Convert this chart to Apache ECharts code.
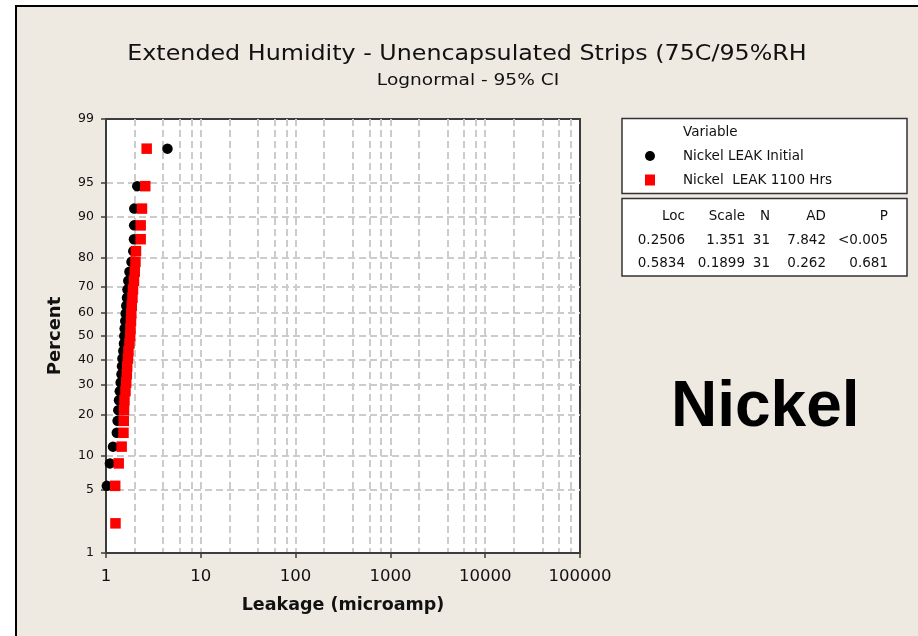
<!DOCTYPE html>
<html>
<head>
<meta charset="utf-8">
<script src="https://cdn.jsdelivr.net/npm/echarts@6/dist/echarts.min.js"></script>
<style>
  html, body { margin: 0; padding: 0; background: #ffffff; }
  #chart { width: 918px; height: 636px; }
</style>
</head>
<body>
<div id="chart"></div>
<script>
// Median-rank plotting positions (percent) shared by both samples, N = 31
const percentRanks = [2.23, 5.41, 8.60, 11.78, 14.97, 18.15, 21.34, 24.52, 27.71, 30.89,
  34.08, 37.26, 40.45, 43.63, 46.82, 50.00, 53.18, 56.37, 59.55, 62.74,
  65.92, 69.11, 72.29, 75.48, 78.66, 81.85, 85.03, 88.22, 91.40, 94.59, 97.77];

// Sorted leakage readings (microamp)
const leakInitial = [0.004, 1.02, 1.10, 1.185, 1.30, 1.325, 1.348, 1.371, 1.398, 1.428,
  1.457, 1.475, 1.492, 1.522, 1.548, 1.559, 1.574, 1.597, 1.613, 1.637,
  1.665, 1.685, 1.718, 1.768, 1.857, 1.940, 1.972, 1.982, 1.987, 2.137, 4.45];
const leak1100 = [1.259, 1.250, 1.361, 1.463, 1.529, 1.540, 1.548, 1.566, 1.605, 1.633,
  1.657, 1.673, 1.705, 1.726, 1.768, 1.799, 1.812, 1.834, 1.848, 1.870,
  1.902, 1.925, 1.972, 2.011, 2.046, 2.071, 2.321, 2.321, 2.395, 2.595, 2.685];

const seriesNames = ['Nickel LEAK Initial', 'Nickel  LEAK 1100 Hrs'];

// Axis ticks and grid positions
const percentTicks = [1, 5, 10, 20, 30, 40, 50, 60, 70, 80, 90, 95, 99];
const percentGrid = [5, 10, 20, 30, 40, 50, 60, 70, 80, 90, 95];
const leakGrid = [2, 4, 6, 8, 10, 20, 40, 60, 80, 100, 200, 400, 600, 800, 1000,
  2000, 4000, 6000, 8000, 10000, 20000, 40000, 60000, 80000];

// Goodness-of-fit table
const statHeader = ['Loc', 'Scale', 'N', 'AD', 'P'];
const statLoc = ['0.2506', '0.5834'];
const statScale = ['1.351', '0.1899'];
const statN = ['31', '31'];
const statAD = ['7.842', '0.262'];
const statP = ['<0.005', '0.681'];

// Inverse standard normal CDF (Acklam) for the probability scale
function probit(p) {
  const a = [-3.969683028665376e+01, 2.209460984245205e+02, -2.759285104469687e+02,
    1.383577518672690e+02, -3.066479806614716e+01, 2.506628277459239e+00];
  const b = [-5.447609879822406e+01, 1.615858368580409e+02, -1.556989798598866e+02,
    6.680131188771972e+01, -1.328068155288572e+01];
  const c = [-7.784894002430293e-03, -3.223964580411365e-01, -2.400758277161838e+00,
    -2.549732539343734e+00, 4.374664141464968e+00, 2.938163982698783e+00];
  const d = [7.784695709041462e-03, 3.224671290700398e-01, 2.445134137142996e+00,
    3.754408661907416e+00];
  const pl = 0.02425, ph = 1 - pl;
  let q, r;
  if (p < pl) {
    q = Math.sqrt(-2 * Math.log(p));
    return (((((c[0]*q+c[1])*q+c[2])*q+c[3])*q+c[4])*q+c[5]) /
      ((((d[0]*q+d[1])*q+d[2])*q+d[3])*q+1);
  }
  if (p <= ph) {
    q = p - 0.5; r = q * q;
    return (((((a[0]*r+a[1])*r+a[2])*r+a[3])*r+a[4])*r+a[5])*q /
      (((((b[0]*r+b[1])*r+b[2])*r+b[3])*r+b[4])*r+1);
  }
  q = Math.sqrt(-2 * Math.log(1 - p));
  return -(((((c[0]*q+c[1])*q+c[2])*q+c[3])*q+c[4])*q+c[5]) /
    ((((d[0]*q+d[1])*q+d[2])*q+d[3])*q+1);
}
const zOf = pct => probit(pct / 100);
const zMin = zOf(percentTicks[0]);
const zMax = zOf(percentTicks[percentTicks.length - 1]);

function labelFor(z) {
  let best = percentTicks[0], bd = Infinity;
  percentTicks.forEach(t => { const dd = Math.abs(zOf(t) - z); if (dd < bd) { bd = dd; best = t; } });
  return String(best);
}

const FONT = 'DejaVu Sans';
const SMALL = '13.5px "' + FONT + '"';
const gridLineStyle = { color: '#cccccc', width: 2, type: [7, 4] };
const frameColor = '#3c3c3c';

const chart = echarts.init(document.getElementById('chart'), null, { renderer: 'canvas' });

const GL = 106, GT = 119, GW = 474, GH = 434;

// Stats table rows as text graphics, right-aligned per column
const colRight = [685, 745, 770, 826, 888];
const rowY = [216.5, 240.5, 263];
const statCols = [statLoc, statScale, statN, statAD, statP];
const tableText = [];
statHeader.forEach((h, ci) => {
  tableText.push({ type: 'text', x: colRight[ci], y: rowY[0],
    style: { text: h, font: SMALL, fill: '#111', align: 'right', verticalAlign: 'middle' } });
  statCols[ci].forEach((v, ri) => {
    tableText.push({ type: 'text', x: colRight[ci], y: rowY[ri + 1],
      style: { text: v, font: SMALL, fill: '#111', align: 'right', verticalAlign: 'middle' } });
  });
});

chart.setOption({
  animation: false,
  backgroundColor: '#ffffff',
  graphic: [
    { type: 'rect', z: -10, silent: true, shape: { x: 16, y: 6, width: 910, height: 640 },
      style: { fill: '#eeeae1', stroke: '#000', lineWidth: 2 } },
    // chart title and subtitle, slightly widened lettering
    { type: 'text', z: 2, x: 467, y: 54.5, scaleX: 1.16,
      style: { text: 'Extended Humidity - Unencapsulated Strips (75C/95%RH', font: '20.5px "' + FONT + '"',
        fill: '#111', align: 'center', verticalAlign: 'middle' } },
    { type: 'text', z: 2, x: 468, y: 81, scaleX: 1.16,
      style: { text: 'Lognormal - 95% CI', font: '16px "' + FONT + '"',
        fill: '#111', align: 'center', verticalAlign: 'middle' } },
    { type: 'rect', z: 1, shape: { x: 622, y: 118.5, width: 285, height: 75 },
      style: { fill: '#ffffff', stroke: '#333', lineWidth: 1.5 } },
    { type: 'rect', z: 1, shape: { x: 622, y: 198.5, width: 285, height: 77.5 },
      style: { fill: '#ffffff', stroke: '#333', lineWidth: 1.5 } },
    { type: 'text', z: 2, x: 683, y: 132.5, style: { text: 'Variable', font: SMALL, fill: '#111', verticalAlign: 'middle' } },
    { type: 'text', z: 2, x: 671, y: 408, style: { text: 'Nickel', font: 'bold 64px "Liberation Sans"', fill: '#000', verticalAlign: 'middle' } }
  ].concat(tableText.map(t => Object.assign({ z: 2 }, t))),
  legend: {
    orient: 'vertical', left: 640, top: 144, itemGap: 10, itemWidth: 10, itemHeight: 11,
    data: seriesNames, z: 5,
    textStyle: { fontFamily: FONT, fontSize: 13.5, color: '#111', padding: [0, 0, 0, 23] }
  },
  grid: { left: GL, top: GT, width: GW, height: GH, show: true, backgroundColor: '#ffffff',
    borderColor: frameColor, borderWidth: 2 },
  xAxis: [
    { type: 'log', logBase: 10, min: 1, max: 100000,
      name: 'Leakage (microamp)', nameLocation: 'middle', nameGap: 43,
      nameTextStyle: { fontFamily: FONT, fontSize: 17.5, fontWeight: 'bold', color: '#111' },
      axisLine: { show: true, onZero: false, lineStyle: { color: frameColor, width: 2 } },
      axisTick: { show: true, length: 5, lineStyle: { color: frameColor, width: 1.5 } },
      axisLabel: { margin: 15, fontFamily: FONT, fontSize: 16.5, color: '#111', formatter: v => String(v) },
      splitLine: { show: false }, minorTick: { show: false } },
    { type: 'log', logBase: 10, min: 1, max: 100000, position: 'top',
      axisLine: { show: false, onZero: false }, axisLabel: { show: false },
      axisTick: { show: false, customValues: leakGrid },
      splitLine: { show: true, lineStyle: gridLineStyle } }
  ],
  yAxis: [
    { type: 'value', min: zMin, max: zMax,
      name: 'Percent', nameLocation: 'middle', nameGap: 42, nameRotate: 90,
      nameTextStyle: { fontFamily: FONT, fontSize: 18, fontWeight: 'bold', color: '#111' },
      axisLine: { show: true, onZero: false, lineStyle: { color: frameColor, width: 2 } },
      axisTick: { show: true, length: 5, customValues: percentTicks.map(zOf), lineStyle: { color: frameColor, width: 1.5 } },
      axisLabel: { margin: 12, fontFamily: FONT, fontSize: 12.5, color: '#111',
        customValues: percentTicks.map(zOf), formatter: v => labelFor(v) },
      splitLine: { show: false } },
    { type: 'value', min: zMin, max: zMax, position: 'right',
      axisLine: { show: false, onZero: false }, axisLabel: { show: false },
      axisTick: { show: false, customValues: percentGrid.map(zOf) },
      splitLine: { show: true, lineStyle: gridLineStyle } }
  ],
  series: [
    { name: seriesNames[0], type: 'scatter', xAxisIndex: 0, yAxisIndex: 0, clip: true,
      symbol: 'circle', symbolSize: 10.5, itemStyle: { color: '#000000', opacity: 1 },
      data: leakInitial.map((v, i) => [v, zOf(percentRanks[i])]) },
    { name: seriesNames[1], type: 'scatter', xAxisIndex: 0, yAxisIndex: 0, clip: true,
      symbol: 'rect', symbolSize: 10.5, itemStyle: { color: '#ff0000', opacity: 1 },
      data: leak1100.map((v, i) => [v, zOf(percentRanks[i])]) }
  ]
});
</script>
</body>
</html>
